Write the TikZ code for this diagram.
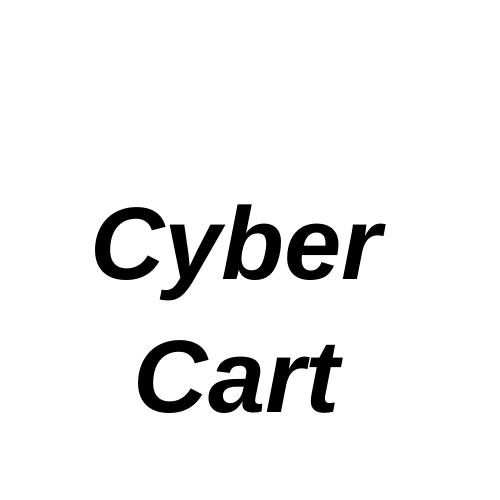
\documentclass[tikz,border=0pt]{standalone}
\usepackage{fontspec}
\setmainfont{Liberation Sans}
\usetikzlibrary{positioning}
\tikzset{
brand/.style={
  inner sep=0pt,
  anchor=base,
  font=\fontsize{103}{126}\selectfont\bfseries\itshape
}
}

\begin{document}
\begin{tikzpicture}[x=1pt,y=1pt]
\useasboundingbox[fill=white] (0,0) rectangle (500,500);
% the two words
\node[brand] (cyber) at (236,220) {Cyber};
\node[brand] (cart) at (237,87) {Cart};
\end{tikzpicture}
\end{document}
